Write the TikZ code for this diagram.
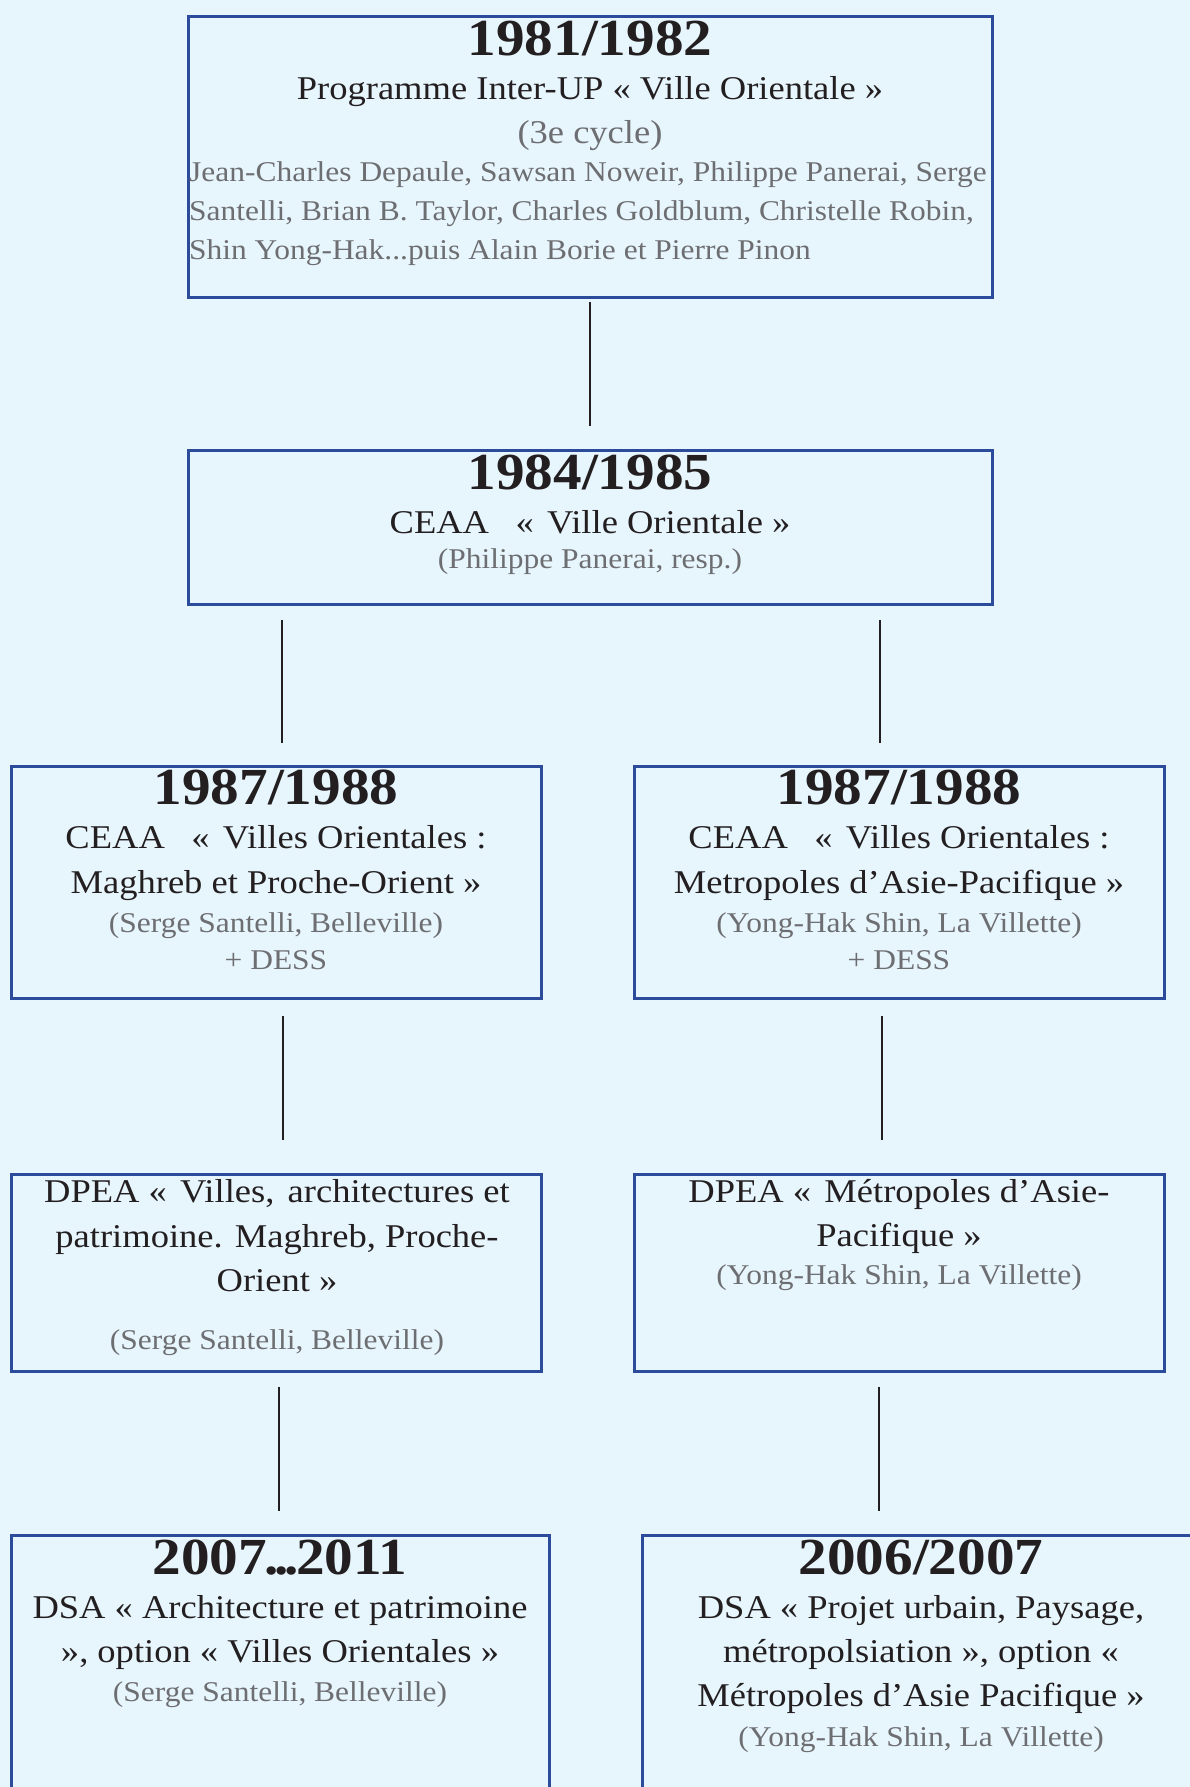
\documentclass[tikz,border=0pt]{standalone}
\usepackage{fontspec}
\setmainfont[FakeStretch=1.1]{Liberation Serif}
\definecolor{bgblue}{HTML}{E7F5FD}
\definecolor{frameblue}{HTML}{2D4B9B}
\definecolor{inkdark}{HTML}{231F20}
\definecolor{inkgray}{HTML}{6D6E71}
\begin{document}
\begin{tikzpicture}[x=1pt,y=-1pt,
  boxframe/.style={draw=frameblue,line width=2.6pt,rectangle,inner sep=0pt,anchor=north west},
  yeartxt/.style={inner sep=0pt,anchor=base,text=inkdark,font=\fontsize{52}{56}\selectfont\bfseries},
  bodytxt/.style={inner sep=0pt,anchor=base,text=inkdark,font=\fontsize{33.2}{40}\selectfont},
  bodygray/.style={inner sep=0pt,anchor=base,text=inkgray,font=\fontsize{33.2}{40}\selectfont},
  graytxt/.style={inner sep=0pt,anchor=base,text=inkgray,font=\fontsize{28.6}{34}\selectfont},
  grayleft/.style={graytxt,anchor=base west},
  conn/.style={draw=inkdark,line width=1.8pt}]
\useasboundingbox (0,0) rectangle (1190,1787);
\fill[bgblue] (0,0) rectangle (1190,1787);
\clip (0,0) rectangle (1190,1787);

% Box 1
\node[boxframe,minimum width=804pt,minimum height=281pt] (b1) at (187,15) {};
\node[yeartxt] (b1y) at (590,56) {1981/1982};
\node[bodytxt] (b1a) at (590,100) {Programme Inter-UP « Ville Orientale »};
\node[bodygray] (b1b) at (590,144) {(3e cycle)};
\node[grayleft] (b1c) at (189,182) {Jean-Charles Depaule, Sawsan Noweir, Philippe Panerai, Serge};
\node[grayleft] (b1d) at (189,221) {Santelli, Brian B. Taylor, Charles Goldblum, Christelle Robin,};
\node[grayleft] (b1e) at (189,259) {Shin Yong-Hak...puis Alain Borie et Pierre Pinon};

% Box 2
\node[boxframe,minimum width=804pt,minimum height=154pt] (b2) at (187,449) {};
\node[yeartxt] (b2y) at (590,489) {1984/1985};
\node[bodytxt] (b2a) at (590,533) {CEAA\hspace{0.8em}«\hspace{0.4em}Ville Orientale »};
\node[graytxt] (b2b) at (590,568) {(Philippe Panerai, resp.)};

% Box 3 left
\node[boxframe,minimum width=530pt,minimum height=232pt] (b3l) at (10,765) {};
\node[yeartxt] (b3ly) at (276,804) {1987/1988};
\node[bodytxt] (b3la) at (276,848) {CEAA\hspace{0.8em}«\hspace{0.4em}Villes Orientales :};
\node[bodytxt] (b3lb) at (276,893) {Maghreb et Proche-Orient »};
\node[graytxt] (b3lc) at (276,932) {(Serge Santelli, Belleville)};
\node[graytxt] (b3ld) at (276,969) {+ DESS};

% Box 3 right
\node[boxframe,minimum width=530pt,minimum height=232pt] (b3r) at (633,765) {};
\node[yeartxt] (b3ry) at (899,804) {1987/1988};
\node[bodytxt] (b3ra) at (899,848) {CEAA\hspace{0.8em}«\hspace{0.4em}Villes Orientales :};
\node[bodytxt] (b3rb) at (899,893) {Metropoles d’Asie-Pacifique »};
\node[graytxt] (b3rc) at (899,932) {(Yong-Hak Shin, La Villette)};
\node[graytxt] (b3rd) at (899,969) {+ DESS};

% Box 4 left
\node[boxframe,minimum width=530pt,minimum height=197pt] (b4l) at (10,1173) {};
\node[bodytxt] (b4la) at (277,1202) {DPEA «\hspace{0.4em}Villes,\hspace{0.4em}architectures et};
\node[bodytxt] (b4lb) at (277,1247) {patrimoine. Maghreb, Proche-};
\node[bodytxt] (b4lc) at (277,1291) {Orient »};
\node[graytxt] (b4ld) at (277,1349) {(Serge Santelli, Belleville)};

% Box 4 right
\node[boxframe,minimum width=530pt,minimum height=197pt] (b4r) at (633,1173) {};
\node[bodytxt] (b4ra) at (899,1202) {DPEA «\hspace{0.4em}Métropoles d’Asie-};
\node[bodytxt] (b4rb) at (899,1246) {Pacifique »};
\node[graytxt] (b4rc) at (899,1284) {(Yong-Hak Shin, La Villette)};

% Box 5 left
\node[boxframe,minimum width=538pt,minimum height=280pt] (b5l) at (10,1534) {};
\node[yeartxt] (b5ly) at (280,1574) {2007\kern-3pt.\kern-4pt.\kern-4pt.\kern-3pt2011};
\node[bodytxt] (b5la) at (280,1618) {DSA « Architecture et patrimoine};
\node[bodytxt] (b5lb) at (280,1662) {», option « Villes Orientales »};
\node[graytxt] (b5lc) at (280,1701) {(Serge Santelli, Belleville)};

% Box 5 right
\node[boxframe,minimum width=560pt,minimum height=280pt] (b5r) at (641,1534) {};
\node[yeartxt] (b5ry) at (921,1574) {2006/2007};
\node[bodytxt] (b5ra) at (921,1618) {DSA « Projet urbain, Paysage,};
\node[bodytxt] (b5rb) at (921,1662) {métropolsiation », option «};
\node[bodytxt] (b5rc) at (921,1706) {Métropoles d’Asie Pacifique »};
\node[graytxt] (b5rd) at (921,1746) {(Yong-Hak Shin, La Villette)};

% Connectors
\coordinate (c1a) at (590,302); \coordinate (c1b) at (590,426);
\coordinate (c2la) at (282,620); \coordinate (c2lb) at (282,743);
\coordinate (c2ra) at (880,620); \coordinate (c2rb) at (880,743);
\coordinate (c3la) at (283,1016); \coordinate (c3lb) at (283,1140);
\coordinate (c3ra) at (882,1016); \coordinate (c3rb) at (882,1140);
\coordinate (c4la) at (279,1387); \coordinate (c4lb) at (279,1511);
\coordinate (c4ra) at (879,1387); \coordinate (c4rb) at (879,1511);
\draw[conn] (c1a) -- (c1b);
\draw[conn] (c2la) -- (c2lb);
\draw[conn] (c2ra) -- (c2rb);
\draw[conn] (c3la) -- (c3lb);
\draw[conn] (c3ra) -- (c3rb);
\draw[conn] (c4la) -- (c4lb);
\draw[conn] (c4ra) -- (c4rb);
\end{tikzpicture}
\end{document}
